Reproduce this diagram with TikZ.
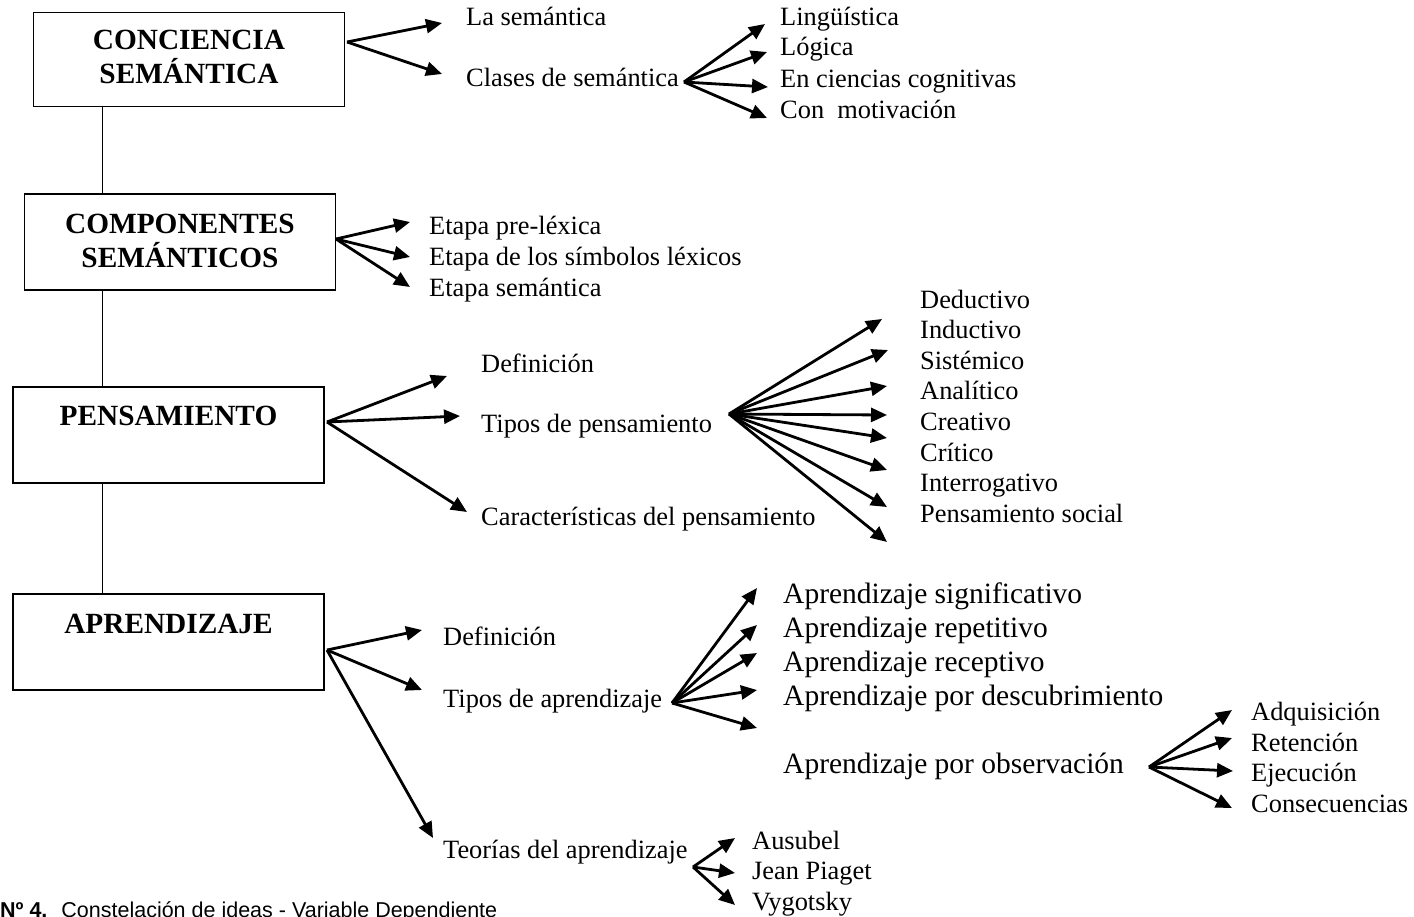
\documentclass[tikz,border=0pt]{standalone}
\usepackage{fontspec}
\setmainfont{Liberation Serif}
\newfontfamily\capfont{Liberation Sans}
\usetikzlibrary{arrows.meta}

\tikzset{
  box/.style={draw, line width=1.6pt, inner sep=0pt},
  ttl/.style={font=\fontsize{29.3}{34}\selectfont\bfseries, anchor=base, inner sep=0pt},
  lbl/.style={font=\fontsize{26.4}{30}\selectfont, anchor=base west, inner sep=0pt},
  biglbl/.style={font=\fontsize{29.5}{34}\selectfont, anchor=base west, inner sep=0pt},
  arr/.style={line width=2.8pt, -{Triangle[length=16pt,width=14pt]}},
  link/.style={line width=1.4pt},
}

\begin{document}
\begin{tikzpicture}[x=1pt, y=-1pt]
  \useasboundingbox (0,0) rectangle (1414,916);
  % Main boxes
  \node[box, minimum width=311pt, minimum height=94pt] (conc) at (189,59.5) {};
  \node[box, minimum width=311pt, minimum height=96pt] (comp) at (180,242) {};
  \node[box, minimum width=311pt, minimum height=96pt] (pens) at (168.5,435) {};
  \node[box, minimum width=311pt, minimum height=96pt] (apre) at (168.5,642) {};
  \node[ttl] (concA) at (189,49) {CONCIENCIA};
  \node[ttl] (concB) at (189,83) {SEMÁNTICA};
  \node[ttl] (compA) at (180,233) {COMPONENTES};
  \node[ttl] (compB) at (180,267) {SEMÁNTICOS};
  \node[ttl] (pensT) at (168.5,425) {PENSAMIENTO};
  \node[ttl] (apreT) at (168.5,633) {APRENDIZAJE};
  % Spine between the boxes
  \coordinate (spine) at (102.5,0);
  \draw[link] (conc.south -| spine) -- (comp.north -| spine);
  \draw[link] (comp.south -| spine) -- (pens.north -| spine);
  \draw[link] (pens.south -| spine) -- (apre.north -| spine);

  % Conciencia semantica
  \node[lbl] (lasem) at (466,25) {La semántica};
  \node[lbl] (clases) at (466,86) {Clases de semántica};
  \coordinate (c1) at (347,42);
  \coordinate (c1a) at (442,23);
  \coordinate (c1b) at (442,74);
  \draw[arr] (c1) -- (c1a);
  \draw[arr] (c1) -- (c1b);
  % Clases de semantica
  \node[lbl] (ling) at (780,25) {Lingüística};
  \node[lbl] (logi) at (780,55) {Lógica};
  \node[lbl] (cogn) at (780,87) {En ciencias cognitivas};
  \node[lbl] (moti) at (780,118) {Con~ motivación};
  \coordinate (c2) at (684,82);
  \coordinate (c2a) at (765,24);
  \coordinate (c2b) at (767,52);
  \coordinate (c2c) at (768,87);
  \coordinate (c2d) at (767,118);
  \draw[arr] (c2) -- (c2a);
  \draw[arr] (c2) -- (c2b);
  \draw[arr] (c2) -- (c2c);
  \draw[arr] (c2) -- (c2d);

  % Componentes semanticos
  \node[lbl] (prelex) at (429,234) {Etapa pre-léxica};
  \node[lbl] (simlex) at (429,265) {Etapa de los símbolos léxicos};
  \node[lbl] (etsem) at (429,296) {Etapa semántica};
  \coordinate (c3) at (336,239);
  \coordinate (c3a) at (410,222);
  \coordinate (c3b) at (410,257);
  \coordinate (c3c) at (410,287);
  \draw[arr] (c3) -- (c3a);
  \draw[arr] (c3) -- (c3b);
  \draw[arr] (c3) -- (c3c);

  % Pensamiento
  \node[lbl] (pdef) at (481,372) {Definición};
  \node[lbl] (ptip) at (481,432) {Tipos de pensamiento};
  \node[lbl] (pcar) at (481,525) {Características del pensamiento};
  \coordinate (c4) at (327,422);
  \coordinate (c4a) at (447,376);
  \coordinate (c4b) at (460,416);
  \coordinate (c4c) at (467,512);
  \draw[arr] (c4) -- (c4a);
  \draw[arr] (c4) -- (c4b);
  \draw[arr] (c4) -- (c4c);
  % Tipos de pensamiento
  \node[lbl] (dedu) at (920,308) {Deductivo};
  \node[lbl] (indu) at (920,338.6) {Inductivo};
  \node[lbl] (sist) at (920,369.2) {Sistémico};
  \node[lbl] (anal) at (920,399.8) {Analítico};
  \node[lbl] (crea) at (920,430.4) {Creativo};
  \node[lbl] (crit) at (920,461) {Crítico};
  \node[lbl] (inte) at (920,491.6) {Interrogativo};
  \node[lbl] (soci) at (920,522.2) {Pensamiento social};
  \coordinate (c5) at (729,414);
  \coordinate (c5a) at (882,319);
  \coordinate (c5b) at (888,350);
  \coordinate (c5c) at (887,386);
  \coordinate (c5d) at (887,415);
  \coordinate (c5e) at (887,438);
  \coordinate (c5f) at (887,470);
  \coordinate (c5g) at (887,507);
  \coordinate (c5h) at (887,542);
  \draw[arr] (c5) -- (c5a);
  \draw[arr] (c5) -- (c5b);
  \draw[arr] (c5) -- (c5c);
  \draw[arr] (c5) -- (c5d);
  \draw[arr] (c5) -- (c5e);
  \draw[arr] (c5) -- (c5f);
  \draw[arr] (c5) -- (c5g);
  \draw[arr] (c5) -- (c5h);

  % Aprendizaje
  \node[lbl] (adef) at (443,645) {Definición};
  \node[lbl] (atip) at (443,707) {Tipos de aprendizaje};
  \node[lbl] (ateo) at (443,858) {Teorías del aprendizaje};
  \coordinate (c6) at (327,650);
  \coordinate (c6a) at (422,630);
  \coordinate (c6b) at (422,690);
  \coordinate (c6c) at (433,838);
  \draw[arr] (c6) -- (c6a);
  \draw[arr] (c6) -- (c6b);
  \draw[arr] (c6) -- (c6c);
  % Tipos de aprendizaje
  \node[biglbl] (sign) at (783,603) {Aprendizaje significativo};
  \node[biglbl] (repe) at (783,637) {Aprendizaje repetitivo};
  \node[biglbl] (rece) at (783,671) {Aprendizaje receptivo};
  \node[biglbl] (desc) at (783,705) {Aprendizaje por descubrimiento};
  \node[biglbl] (obse) at (783,773) {Aprendizaje por observación};
  \coordinate (c7) at (672,703);
  \coordinate (c7a) at (757,588);
  \coordinate (c7b) at (757,625);
  \coordinate (c7c) at (757,653);
  \coordinate (c7d) at (757,690);
  \coordinate (c7e) at (757,728);
  \draw[arr] (c7) -- (c7a);
  \draw[arr] (c7) -- (c7b);
  \draw[arr] (c7) -- (c7c);
  \draw[arr] (c7) -- (c7d);
  \draw[arr] (c7) -- (c7e);
  % Aprendizaje por observacion
  \node[lbl] (adqu) at (1251,720.5) {Adquisición};
  \node[lbl] (rete) at (1251,751) {Retención};
  \node[lbl] (ejec) at (1251,781) {Ejecución};
  \node[lbl] (cons) at (1251,812) {Consecuencias};
  \coordinate (c8) at (1149,767);
  \coordinate (c8a) at (1232,710);
  \coordinate (c8b) at (1232,738);
  \coordinate (c8c) at (1233,771);
  \coordinate (c8d) at (1232,808);
  \draw[arr] (c8) -- (c8a);
  \draw[arr] (c8) -- (c8b);
  \draw[arr] (c8) -- (c8c);
  \draw[arr] (c8) -- (c8d);
  % Teorias del aprendizaje
  \node[lbl] (ausu) at (752,849) {Ausubel};
  \node[lbl] (piag) at (752,879.5) {Jean Piaget};
  \node[lbl] (vygo) at (752,910) {Vygotsky};
  \coordinate (c9) at (693,867);
  \coordinate (c9a) at (735,838);
  \coordinate (c9b) at (735,873);
  \coordinate (c9c) at (735,905);
  \draw[arr] (c9) -- (c9a);
  \draw[arr] (c9) -- (c9b);
  \draw[arr] (c9) -- (c9c);

  % Caption, cut at the page edge
  \node[font=\capfont\fontsize{21.5}{24}\selectfont, anchor=base west, inner sep=0pt] (capt) at (0,917)
    {{\bfseries Nº 4.}~ Constelación de ideas - Variable Dependiente};
\end{tikzpicture}
\end{document}
